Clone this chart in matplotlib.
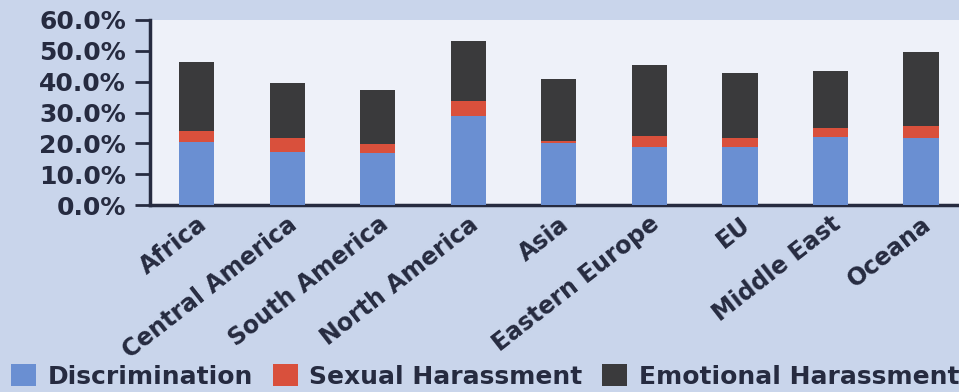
import numpy as np
import matplotlib
matplotlib.use("Agg")
import matplotlib.pyplot as plt
from matplotlib.ticker import PercentFormatter

# ── data ──────────────────────────────────────────────────────────────────────

regions = ["Africa", "Central America", "South America", "North America",
           "Asia", "Eastern Europe", "EU", "Middle East", "Oceana"]
discrimination = [20.5, 17.3, 16.8, 28.9, 20.0, 18.9, 18.9, 22.2, 21.8]
sexual = [3.6, 4.3, 3.0, 4.7, 0.9, 3.5, 2.9, 2.7, 3.8]
emotional = [22.3, 17.9, 17.5, 19.7, 20.1, 22.9, 20.9, 18.7, 23.9]

# ── style ─────────────────────────────────────────────────────────────────────

fig_bg = "#c9d5eb"
ax_bg = "#eef1f9"
ink = "#262b40"
c_disc = "#6a8fd2"
c_sex = "#d9503c"
c_emo = "#3a3a3c"

plt.rcParams["font.family"] = ["DejaVu Sans"]
plt.rcParams["font.weight"] = "bold"

fig = plt.figure(figsize=(9.59, 3.92), dpi=100, facecolor=fig_bg)
ax = fig.add_axes([0.156, 0.477, 0.844, 0.472])
ax.set_facecolor(ax_bg)

x = np.arange(len(regions))
w = 0.39
disc = np.array(discrimination)
sx = np.array(sexual)
emo = np.array(emotional)

ax.bar(x, disc, w, color=c_disc, label="Discrimination", zorder=3)
ax.bar(x, sx, w, bottom=disc, color=c_sex, label="Sexual Harassment", zorder=3)
ax.bar(x, emo, w, bottom=disc + sx, color=c_emo,
       label="Emotional Harassment", zorder=3)

ax.set_ylim(0, 60)
ax.set_xlim(-0.52, 8.42)
ax.set_yticks(np.arange(0, 61, 10))
ax.yaxis.set_major_formatter(PercentFormatter(decimals=1))

for s in ["top", "right"]:
    ax.spines[s].set_visible(False)
for s in ["left", "bottom"]:
    ax.spines[s].set_color(ink)
    ax.spines[s].set_linewidth(2.5)

ax.tick_params(axis="y", length=11, width=2, color=ink, labelsize=18,
               labelcolor=ink, pad=6)
ax.tick_params(axis="x", length=0, pad=5)
ax.set_xticks(x)
ax.set_xticklabels(regions, rotation=38, ha="right", rotation_mode="anchor",
                   fontsize=17, color=ink)

fig.legend(loc="lower left", bbox_to_anchor=(-0.004, -0.03), ncol=3,
           frameon=False, fontsize=18, handlelength=1.0, handleheight=1.0,
           handletextpad=0.45, columnspacing=0.8, labelcolor=ink,
           borderaxespad=0.2)

fig.savefig("out.png", dpi=100, facecolor=fig_bg)
